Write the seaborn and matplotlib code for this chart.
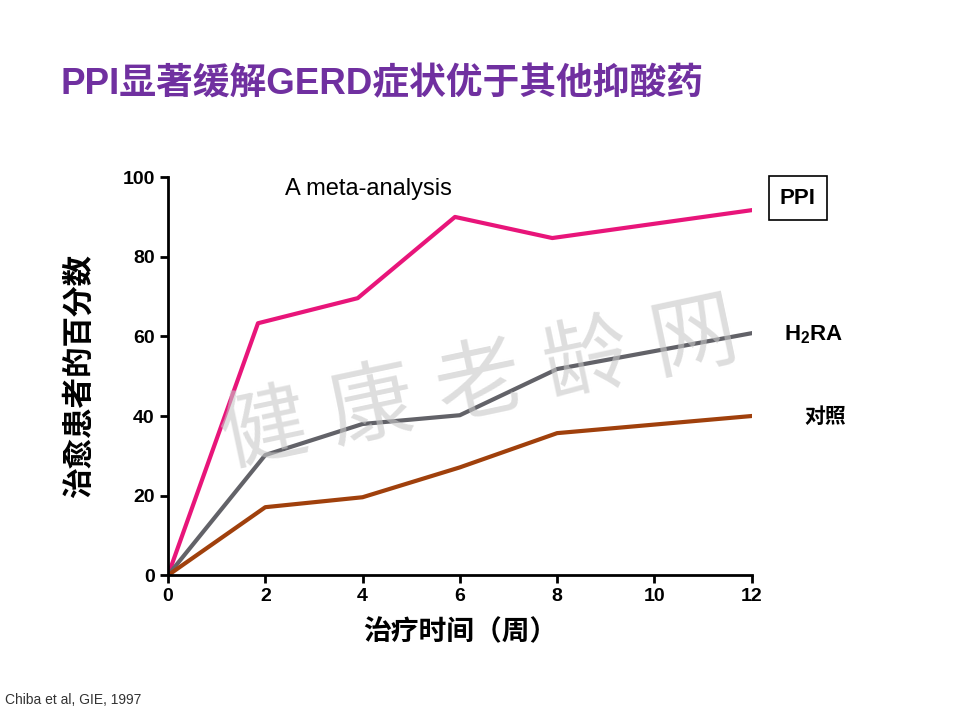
import matplotlib
matplotlib.use("Agg")
import matplotlib.pyplot as plt
import seaborn as sns
import pandas as pd

weeks_ppi = [0, 1.85, 3.9, 5.9, 7.9, 12]
ppi = [0, 63.3, 69.6, 90, 84.7, 91.7]
weeks = [0, 2, 4, 6, 8, 12]
h2ra = [0, 30.2, 38, 40.2, 51.8, 60.8]
control = [0, 17.1, 19.6, 27.1, 35.7, 40]
xticks = [0, 2, 4, 6, 8, 10, 12]
yticks = [0, 20, 40, 60, 80, 100]

CJK = ["Liberation Sans", "Noto Sans CJK JP"]
plt.rcParams["font.family"] = ["Liberation Sans", "Noto Sans CJK JP"]
fig = plt.figure(figsize=(9.6, 7.2), dpi=100)
ax = fig.add_axes([0.175, 0.201, 0.608, 0.553])

df = pd.concat([
    pd.DataFrame({"x": weeks_ppi, "y": ppi, "s": "PPI"}),
    pd.DataFrame({"x": weeks, "y": h2ra, "s": "H2RA"}),
    pd.DataFrame({"x": weeks, "y": control, "s": "ctrl"}),
])
sns.lineplot(data=df, x="x", y="y", hue="s", sort=False,
             palette={"PPI": "#e8157a", "H2RA": "#626268", "ctrl": "#a0400c"},
             linewidth=3, legend=False, ax=ax)

ax.set_xlim(0, 12)
ax.set_ylim(0, 100)
ax.set_xticks(xticks)
ax.set_yticks(yticks)
ax.tick_params(labelsize=14, width=2, length=6, direction="out")
for t in ax.get_xticklabels() + ax.get_yticklabels():
    t.set_fontweight("bold")
for s in ["top", "right"]:
    ax.spines[s].set_visible(False)
for s in ["left", "bottom"]:
    ax.spines[s].set_linewidth(2)
ax.set_xlabel("治疗时间（周）", fontsize=20, fontweight="bold", labelpad=10, fontfamily=CJK)
ax.set_ylabel("治愈患者的百分数", fontsize=22, fontweight="bold", labelpad=20, fontfamily=CJK)

ax.text(2.4, 97, "A meta-analysis", fontsize=17, ha="left", va="center")
fig.text(0.831, 0.725, "PPI", fontsize=16, fontweight="bold", ha="center", va="center",
         bbox=dict(boxstyle="square,pad=0.5", fc="white", ec="black", lw=1.2))
fig.text(0.817, 0.535, "H$_\\mathregular{2}$RA", fontsize=16, fontweight="bold", ha="left", va="center")
fig.text(0.838, 0.42, "对照", fontsize=15, fontweight="bold", ha="left", va="center", fontfamily=CJK)

fig.text(0.063, 0.882, "PPI显著缓解GERD症状优于其他抑酸药", fontsize=26.5, fontweight="bold",
         color="#7030a0", ha="left", va="center", fontfamily=CJK)
fig.text(0.005, 0.022, "Chiba et al, GIE, 1997", fontsize=10, color="#333333", ha="left")

fig.text(0.5, 0.46, "健 康 老 龄 网", fontsize=62, color="#c8c8c8", alpha=0.6,
         rotation=12, ha="center", va="center", fontfamily=CJK)

fig.savefig("out.png", dpi=100)
